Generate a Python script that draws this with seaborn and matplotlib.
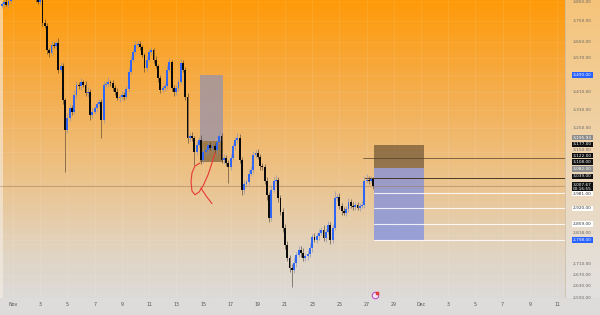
import numpy as np
import pandas as pd
import matplotlib
matplotlib.use("Agg")
import matplotlib.pyplot as plt
import seaborn as sns
from matplotlib.colors import LinearSegmentedColormap
from matplotlib.transforms import offset_copy
from matplotlib.patches import Rectangle

sns.set_theme(style="white")
plt.rcParams['font.family'] = ['DejaVu Sans']

# ---------------- data (4h candles, Oct 31 04:00 -> Nov 27) ----------------
first_open = 3830
close = [3839, 3849, 3834, 3854, 3874, 3900, 3921, 3890, 3937, 3911,
         3953, 3932, 3905, 3921, 3885, 3859, 3849, 3864, 3742, 3727,
         3609, 3595, 3633, 3628, 3643, 3514, 3533, 3375, 3243, 3295,
         3340, 3322, 3398, 3444, 3439, 3458, 3444, 3407, 3412, 3308,
         3322, 3340, 3357, 3366, 3286, 3444, 3449, 3458, 3453, 3430,
         3412, 3384, 3389, 3398, 3389, 3426, 3505, 3561, 3599, 3633,
         3638, 3623, 3585, 3523, 3561, 3599, 3609, 3561, 3533, 3476,
         3421, 3430, 3439, 3514, 3552, 3430, 3412, 3430, 3458, 3547,
         3514, 3389, 3208, 3217, 3208, 3149, 3178, 3199, 3115, 3149,
         3157, 3178, 3166, 3174, 3157, 3191, 3217, 3115, 3123, 3103,
         3086, 3123, 3174, 3199, 3208, 3115, 2992, 3017, 3025, 3058,
         3074, 3136, 3144, 3128, 3090, 3086, 3029, 2972, 2883, 2992,
         3029, 3033, 2961, 2906, 2845, 2780, 2732, 2696, 2689, 2714,
         2744, 2762, 2751, 2732, 2740, 2747, 2769, 2810, 2799, 2814,
         2826, 2837, 2807, 2829, 2856, 2799, 2845, 2961, 2965, 2930,
         2910, 2902, 2918, 2945, 2930, 2926, 2934, 2922, 2930, 2934,
         3029, 3033, 3029, 3037, 3008]
wick_up = [12, 8, 15, 10, 18, 14, 9, 20, 12, 16,
           10, 18, 12, 9, 14, 20, 11, 15, 12, 18,
           14, 10, 22, 16, 12, 25, 18, 14, 10, 20,
           16, 12, 24, 18, 14, 20, 10, 16, 22, 12,
           18, 14, 10, 16, 12, 20, 15, 22, 10, 14,
           12, 18, 10, 16, 14, 12, 20, 18, 14, 22,
           20, 16, 12, 10, 18, 14, 16, 12, 20, 10,
           14, 16, 12, 22, 18, 10, 14, 16, 12, 20,
           16, 12, 20, 14, 18, 10, 16, 12, 20, 14,
           10, 16, 12, 18, 14, 10, 20, 12, 16, 14,
           10, 18, 14, 12, 20, 16, 12, 14, 10, 18,
           14, 16, 12, 18, 10, 14, 12, 16, 10, 20,
           14, 18, 12, 10, 16, 12, 14, 10, 12, 16,
           10, 14, 12, 16, 10, 14, 18, 12, 16, 10,
           14, 12, 18, 10, 16, 12, 14, 28, 12, 16,
           10, 14, 12, 16, 10, 14, 12, 10, 12, 14,
           20, 24, 14, 12, 8]
wick_dn = [10, 14, 8, 16, 12, 10, 18, 12, 14, 10,
           16, 12, 10, 14, 18, 12, 10, 16, 14, 12,
           18, 22, 12, 10, 16, 14, 12, 20, 177, 14,
           12, 16, 10, 14, 12, 18, 10, 14, 16, 20,
           12, 10, 16, 14, 80, 12, 10, 14, 16, 12,
           14, 10, 18, 12, 16, 10, 14, 12, 10, 16,
           12, 14, 10, 18, 12, 10, 16, 14, 12, 18,
           16, 10, 14, 12, 10, 16, 20, 12, 14, 10,
           12, 16, 20, 14, 12, 54, 12, 10, 18, 14,
           12, 16, 10, 14, 12, 18, 10, 14, 16, 12,
           65, 14, 10, 16, 12, 14, 20, 16, 12, 14,
           10, 12, 14, 10, 16, 12, 14, 18, 16, 12,
           10, 14, 16, 12, 18, 14, 12, 16, 61, 12,
           14, 10, 16, 12, 10, 14, 12, 16, 10, 12,
           14, 10, 12, 16, 10, 14, 12, 10, 14, 12,
           16, 10, 12, 14, 10, 12, 14, 10, 12, 10,
           12, 10, 14, 10, 12]

x_tick_days = list(range(0, 41, 2))
x_tick_labels = ["Nov", "3", "5", "7", "9", "11", "13", "15", "17", "19", "21",
                 "23", "25", "27", "29", "Dec", "3", "5", "7", "9", "11"]

y_plain_ticks = [3850, 3750, 3650, 3570, 3410, 3330, 3250, 3150,
                 2818, 2710, 2670, 2630, 2590]

# position tools (price levels)
left_tool_top, left_tool_mid, left_tool_bot = 3490.0, 3195.93, 3108.0
right_tool_top, right_tool_mid, right_tool_bot = 3177.0, 3082.0, 2798.0
dark_lines = [3122.0, 3039.0]
white_lines = [2981.0, 2920.0, 2859.0, 2798.0]
last_price = 3007.67

# free-hand red sketch (day, price)
sketch_t = [13.75, 13.38, 13.16, 13.09, 13.16, 13.38, 13.68, 13.97, 14.34, 14.63, 14.85]
sketch_p = [3102, 3090, 3061, 3025, 2988, 2973, 2984, 3008, 3053, 3102, 3144]
tail_t = [13.82, 14.19, 14.63]
tail_p = [3000, 2969, 2938]

# ---------------- derived ----------------
times = pd.date_range("2024-10-31 04:00", periods=len(close), freq="4h")
t = ((times - pd.Timestamp("2024-11-01")) / pd.Timedelta(days=1)).to_numpy()
c = np.array(close, float)
o = np.concatenate([[first_open], c[:-1]])
hi = np.maximum(o, c) + np.array(wick_up)
lo = np.minimum(o, c) - np.array(wick_dn)
up = c >= o
df = pd.DataFrame({"t": t, "open": o, "close": c, "high": hi, "low": lo, "up": up})
sketch = pd.DataFrame({"t": sketch_t, "p": sketch_p, "order": range(len(sketch_t))})
tail = pd.DataFrame({"t": tail_t, "p": tail_p})

XMIN, XMAX = -0.956, 40.59
YMIN, YMAX = 2589, 3859

fig = plt.figure(figsize=(6, 3.15), dpi=100, facecolor="#dddcdb")
ax = fig.add_axes([0, 17/315, 565/600, 298/315])
axr = fig.add_axes([565/600, 17/315, 35/600, 298/315])

bg = LinearSegmentedColormap.from_list("bg", [(0, "#FF9A08"), (0.3, "#F5AD4C"), (0.6, "#ECC38B"),
                                              (0.85, "#E1D4C2"), (1, "#DCDAD8")])
bgr = LinearSegmentedColormap.from_list("bgr", [(0, "#F6C47A"), (0.3, "#F1CD98"), (0.6, "#EDD7B8"),
                                               (0.85, "#E6DED5"), (1, "#E2E1E0")])
grad = np.linspace(0, 1, 256).reshape(-1, 1)
ax.imshow(grad, cmap=bg, extent=[0, 1, 0, 1], transform=ax.transAxes, aspect="auto", zorder=0)
axr.imshow(grad, cmap=bgr, extent=[0, 1, 0, 1], transform=axr.transAxes, aspect="auto", zorder=0)
ax.add_patch(Rectangle((0, 0), 3/565, 1, transform=ax.transAxes, color="#f6eee4", alpha=0.6,
                       lw=0, zorder=1))

ax.set_yscale("log")
axr.set_yscale("log")

# grid
for d in x_tick_days:
    ax.axvline(d, color="white", alpha=0.13, lw=0.5, zorder=1)
for v in y_plain_ticks + [3490, 2798]:
    ax.axhline(v, color="white", alpha=0.10, lw=0.5, zorder=1)

# position tools
ax.fill_between([13.75, 15.44], left_tool_mid, left_tool_top, color="#9a93a8", alpha=0.78, lw=0, zorder=2)
ax.fill_between([13.75, 15.44], left_tool_bot, left_tool_mid, color="#3a2a18", alpha=0.45, lw=0, zorder=2)
ax.fill_between([26.54, 30.22], right_tool_mid, right_tool_top, color="#3a2a18", alpha=0.5, lw=0, zorder=2)
ax.fill_between([26.54, 30.22], right_tool_bot, right_tool_mid, color="#7589e6", alpha=0.68, lw=0, zorder=2)

# horizontal lines
ax.axhline(last_price, color="#9b7550", alpha=0.45, lw=0.8, zorder=2)
ax.plot([25.74, XMAX], [dark_lines[0]] * 2, color="#4a3a28", lw=0.6, alpha=0.8, zorder=3)
ax.plot([25.90, XMAX], [dark_lines[1]] * 2, color="#3a2a18", lw=0.7, alpha=0.9, zorder=3)
for v in white_lines:
    ax.plot([26.54, XMAX], [v, v], color="white", lw=0.8, alpha=0.85, zorder=3)

# candles
up_col, dn_col = "#2F66F5", "#0b0b0b"
body_lo = np.minimum(df.open, df.close)
body_h = np.maximum(np.abs(df.close - df.open), 2.0)
colors = np.where(df.up, up_col, dn_col)
wick_cols = np.where(df.up, "#7f8cb8", "#4a3b2c")
ax.vlines(df.t, df.low, df.high, colors=wick_cols, lw=0.55, alpha=0.75, zorder=4)
ax.bar(df.t, body_h, bottom=body_lo, width=0.14, color=colors, lw=0, zorder=5)

# red sketch
sns.lineplot(data=sketch, x="t", y="p", sort=False, estimator=None, color="#E53935",
             lw=0.8, ax=ax, zorder=6)
sns.lineplot(data=tail, x="t", y="p", sort=False, estimator=None, color="#E53935",
             lw=0.8, ax=ax, zorder=6)

# small purple icon
ax.scatter([26.62], [2600], s=22, facecolor="#f3e6f3", edgecolor="#c04fc8", lw=0.8, zorder=7, clip_on=False)
ax.scatter([26.78], [2608], s=3, color="#e53935", zorder=8, clip_on=False)

ax.set_xlim(XMIN, XMAX)
ax.set_ylim(YMIN, YMAX)
axr.set_xlim(0, 1)
axr.set_ylim(YMIN, YMAX)

ax.set_xticks(x_tick_days)
ax.set_xticklabels(x_tick_labels)
ax.tick_params(axis="x", length=0, pad=3.0, labelsize=3.4, labelcolor="#555555")
ax.set_yticks([])
ax.yaxis.set_minor_locator(matplotlib.ticker.NullLocator())
ax.set_ylabel("")
ax.set_xlabel("")
for s in ax.spines.values():
    s.set_visible(False)

axr.set_xticks([])
axr.set_yticks([])
axr.yaxis.set_minor_locator(matplotlib.ticker.NullLocator())
for s in axr.spines.values():
    s.set_visible(False)
axr.axvline(0, color="#c8b8a0", lw=0.5)

tr = axr.get_yaxis_transform()
FS = 3.1
# plain tick labels, with small nudges (px, positive = up) so stacked labels do not collide
plain_nudge = {3150: 2.0, 2818: 1.5}
for v in y_plain_ticks:
    trn = offset_copy(tr, fig=fig, y=plain_nudge.get(v, 0) * 0.72, units="points")
    axr.text(0.5, v, f"{v:,.2f}", transform=trn, ha="center", va="center",
             fontsize=FS, color="#666666", clip_on=False)

boxes = [(3490.0, "#2962FF", "white", 0), (3195.93, "#8d8d8d", "white", 3.0),
         (3177.0, "#111111", "white", 1.0), (3122.0, "#111111", "white", 2.5),
         (3108.0, "#111111", "white", -0.5), (3082.0, "#8d8d8d", "white", -1.0),
         (3039.0, "#111111", "white", 2.0), (2981.0, "white", "#333333", -1.0),
         (2920.0, "white", "#333333", 0), (2859.0, "white", "#333333", 0),
         (2798.0, "#2962FF", "white", 0)]
for v, bgc, fgc, nud in boxes:
    trn = offset_copy(tr, fig=fig, y=nud * 0.72, units="points")
    axr.text(0.5, v, f"{v:,.2f}", transform=trn, ha="center", va="center", fontsize=FS,
             color=fgc, bbox=dict(boxstyle="square,pad=0.15", fc=bgc, ec="none"))
axr.text(0.5, last_price, f"{last_price:,.2f}\n00:16:55",
         transform=offset_copy(tr, fig=fig, y=-0.6 * 0.72, units="points"),
         ha="center", va="center", fontsize=FS, color="white", linespacing=0.95,
         bbox=dict(boxstyle="square,pad=0.15", fc="#111111", ec="none"))

fig.savefig("out.png", dpi=100, facecolor=fig.get_facecolor())
